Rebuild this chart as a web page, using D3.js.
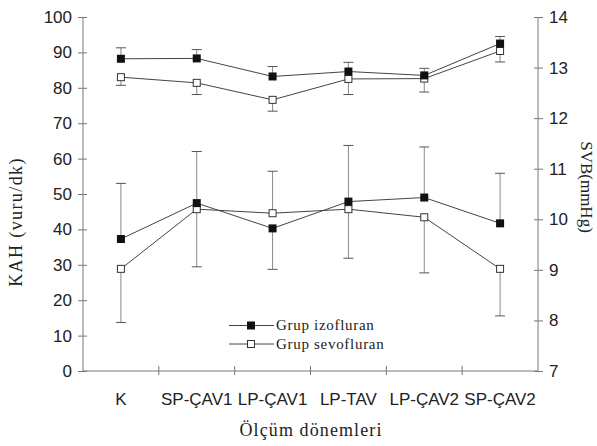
<!DOCTYPE html>
<html>
<head>
<meta charset="utf-8">
<script src="https://cdn.jsdelivr.net/npm/d3@7"></script>
<style>
	body { margin: 0; background: #fff; }
	svg { display: block; }
</style>
</head>
<body>
<div id="chart"></div>
<script>
var categories = ["K", "SP-ÇAV1", "LP-ÇAV1", "LP-TAV", "LP-ÇAV2", "SP-ÇAV2"];
// KAH (left axis)
var kahIzo = [88.2, 88.3, 83.2, 84.6, 83.5, 92.5];
var kahIzoErr = [91.3, 90.8, 86.0, 87.2, 85.5, 94.5];
var kahSevo = [83.0, 81.4, 76.6, 82.5, 82.6, 90.4];
var kahSevoErr = [80.7, 78.1, 73.4, 78.1, 78.8, 87.3];
// SVB (right axis)
var svbIzo = [9.61, 10.32, 9.82, 10.35, 10.43, 9.92];
var svbIzoErr = [10.71, 11.34, 9.01, 11.46, 11.43, 10.91];
var svbSevo = [9.02, 10.20, 10.12, 10.20, 10.04, 9.02];
var svbSevoErr = [7.96, 9.06, 10.95, 9.23, 8.94, 8.09];
var leftTicks = [0, 10, 20, 30, 40, 50, 60, 70, 80, 90, 100];
var rightTicks = [7, 8, 9, 10, 11, 12, 13, 14];
var legendLabels = ["Grup izofluran", "Grup sevofluran"];

var width = 597, height = 446;
var mLeft = 83, mRight = 538, mTop = 17, mBottom = 371;

var svg = d3.select("#chart").append("svg")
	.attr("width", width)
	.attr("height", height);

var x = d3.scaleBand().domain(categories).range([mLeft, mRight]);
var yL = d3.scaleLinear().domain([0, 100]).range([mBottom, mTop]);
var yR = d3.scaleLinear().domain([7, 14]).range([mBottom, mTop]);

var axisColor = "#777";
var sans = "'Liberation Sans', Arial, sans-serif";
var serif = "'Liberation Serif', 'Times New Roman', serif";

function cx(i) { return x(categories[i]) + x.bandwidth() / 2; }

// left axis
var gL = svg.append("g").attr("transform", "translate(" + mLeft + ",0)")
	.call(d3.axisLeft(yL).tickValues(leftTicks).tickSize(5).tickPadding(6));
gL.selectAll(".tick line").attr("x2", -5).attr("x1", 4);
// right axis
var gR = svg.append("g").attr("transform", "translate(" + mRight + ",0)")
	.call(d3.axisRight(yR).tickValues(rightTicks).tickFormat(d3.format("d")).tickSize(5).tickPadding(6));
gR.selectAll(".tick line").attr("x2", 5).attr("x1", -4);
// x axis
var gX = svg.append("g").attr("transform", "translate(0," + mBottom + ")")
	.call(d3.axisBottom(x).tickSize(0).tickPadding(22));
gX.selectAll(".tick line").remove();
categories.forEach(function(c, i) {
	if (i == 0) return;
	gX.append("line").attr("x1", x(c)).attr("x2", x(c)).attr("y1", -5).attr("y2", 4)
		.attr("stroke", axisColor);
});

[gL, gR, gX].forEach(function(g) {
	g.select(".domain").attr("stroke", axisColor);
	g.selectAll(".tick line").attr("stroke", axisColor);
	g.selectAll("text").attr("font-family", sans).attr("font-size", 17).attr("fill", "#222");
});
gL.select(".domain").attr("d", "M0," + mTop + "V" + mBottom);
gR.select(".domain").attr("d", "M0," + mTop + "V" + mBottom);
gX.select(".domain").attr("d", "M" + mLeft + ",0H" + mRight);

function drawSeries(vals, errs, scale, filled) {
	var g = svg.append("g");
	g.selectAll(".err").data(vals).enter().append("line")
		.attr("x1", function(d, i) { return cx(i); })
		.attr("x2", function(d, i) { return cx(i); })
		.attr("y1", function(d) { return scale(d); })
		.attr("y2", function(d, i) { return scale(errs[i]); })
		.attr("stroke", "#888");
	g.selectAll(".cap").data(errs).enter().append("line")
		.attr("x1", function(d, i) { return cx(i) - 5; })
		.attr("x2", function(d, i) { return cx(i) + 5; })
		.attr("y1", function(d) { return scale(d); })
		.attr("y2", function(d) { return scale(d); })
		.attr("stroke", "#555");
	var line = d3.line()
		.x(function(d, i) { return cx(i); })
		.y(function(d) { return scale(d); });
	g.append("path").datum(vals).attr("d", line)
		.attr("fill", "none").attr("stroke", "#444").attr("stroke-width", 1);
	var s = filled ? 8 : 7;
	g.selectAll("rect").data(vals).enter().append("rect")
		.attr("x", function(d, i) { return cx(i) - s / 2; })
		.attr("y", function(d) { return scale(d) - s / 2; })
		.attr("width", s).attr("height", s)
		.attr("fill", filled ? "#111" : "#fff")
		.attr("stroke", filled ? "none" : "#333");
}

drawSeries(kahSevo, kahSevoErr, yL, false);
drawSeries(kahIzo, kahIzoErr, yL, true);
drawSeries(svbSevo, svbSevoErr, yR, false);
drawSeries(svbIzo, svbIzoErr, yR, true);

// legend
var leg = svg.append("g");
legendLabels.forEach(function(t, i) {
	var ly = 325.5 + i * 18.5;
	leg.append("line").attr("x1", 229).attr("x2", 274).attr("y1", ly).attr("y2", ly)
		.attr("stroke", "#444");
	var s = i == 0 ? 8 : 7;
	leg.append("rect").attr("x", 251 - s / 2).attr("y", ly - s / 2)
		.attr("width", s).attr("height", s)
		.attr("fill", i == 0 ? "#111" : "#fff")
		.attr("stroke", i == 0 ? "none" : "#333");
	leg.append("text").attr("x", 276).attr("y", ly + 4.5)
		.attr("font-family", serif).attr("font-size", 15).attr("letter-spacing", 0.7)
		.attr("fill", "#222")
		.text(t);
});

// axis titles
svg.append("text")
	.attr("transform", "translate(22,222) rotate(-90)")
	.attr("text-anchor", "middle")
	.attr("font-family", serif).attr("font-size", 18).attr("letter-spacing", 1.4)
	.attr("fill", "#222")
	.text("KAH (vuru/dk)");
svg.append("text")
	.attr("transform", "translate(581,187) rotate(90)")
	.attr("text-anchor", "middle")
	.attr("font-family", serif).attr("font-size", 17)
	.attr("fill", "#222")
	.text("SVB(mmHg)");
svg.append("text")
	.attr("x", 311).attr("y", 436)
	.attr("text-anchor", "middle")
	.attr("font-family", serif).attr("font-size", 18).attr("letter-spacing", 1.1)
	.attr("fill", "#222")
	.text("Ölçüm dönemleri");
</script>
</body>
</html>
